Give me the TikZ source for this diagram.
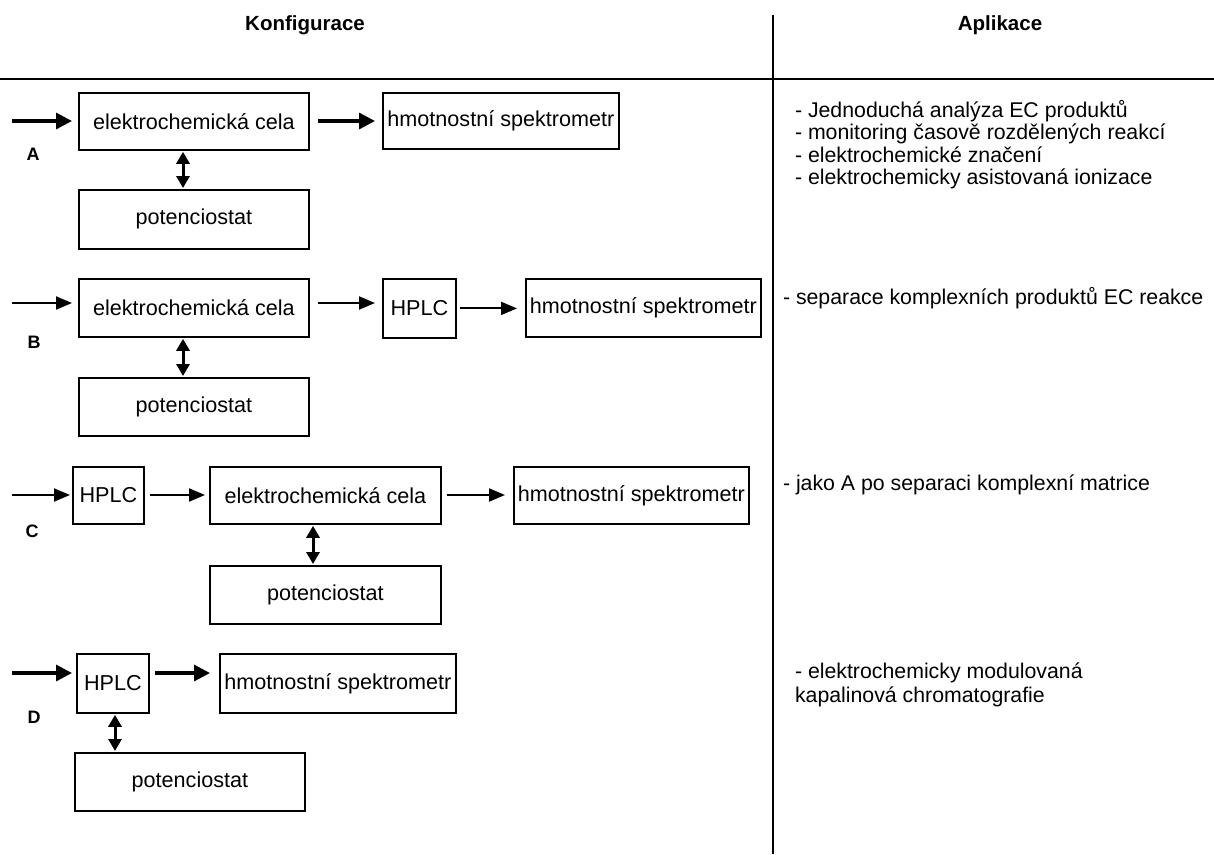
\documentclass[tikz,border=0pt]{standalone}
\usepackage{fontspec}
\setmainfont{Liberation Sans}
\usetikzlibrary{arrows.meta}
\begin{document}
\begin{tikzpicture}[x=1pt,y=-1pt,
  box/.style 2 args={draw, line width=1.8pt, inner sep=0pt, anchor=north west,
    minimum width=#1pt, minimum height=#2pt, font=\fontsize{21.6}{26}\selectfont},
  arr/.style={-{Triangle[length=16pt,width=16pt]}, line width=3.2pt},
  arrthin/.style={-{Triangle[length=16pt,width=13pt]}, line width=2pt},
  darr/.style={{Triangle[length=12pt,width=13pt]}-{Triangle[length=12pt,width=13pt]}, line width=3pt, shorten <=1pt, shorten >=1pt},
  lbl/.style={font=\bfseries\fontsize{18}{22}\selectfont},
  app/.style={anchor=base west, inner sep=0pt, outer sep=0pt, font=\fontsize{21.3}{26}\selectfont},
  head/.style={font=\bfseries\fontsize{20.5}{24}\selectfont},
  sep/.style={line width=1.8pt}
]
\useasboundingbox (0,0) rectangle (1214,854);

% headers and separators
\node[head] (h1) at (305,25) {Konfigurace};
\node[head] (h2) at (1000,25) {Aplikace};
\coordinate (hl) at (0,79);
\coordinate (hr) at (1214,79);
\coordinate (vt) at (773,15);
\coordinate (vb) at (773,854);
\draw[sep] (hl) -- (hr);
\draw[sep] (vt) -- (vb);

% ---------- A ----------
\node[box={230}{57}] (cellA) at (78,92) {elektrochemická cela};
\node[box={236}{56}] (specA) at (382,92) {hmotnostní spektrometr};
\node[box={230}{59}] (potA) at (78,189) {potenciostat};
\node[lbl] (lA) at (33,154) {A};
\coordinate (inA) at (12,121);
\coordinate (dA) at (183,0);
\draw[arr, shorten >=6pt] (inA) -- (inA -| cellA.west);
\draw[arr, shorten <=8pt, shorten >=7pt] (inA -| cellA.east) -- (inA -| specA.west);
\draw[darr] (dA |- cellA.south) -- (dA |- potA.north);

% ---------- B ----------
\node[box={230}{58}] (cellB) at (78,278) {elektrochemická cela};
\node[box={73}{59}] (hplcB) at (382,278) {HPLC};
\node[box={235}{58}] (specB) at (525,278) {hmotnostní spektrometr};
\node[box={230}{58}] (potB) at (78,377) {potenciostat};
\node[lbl] (lB) at (34,342) {B};
\coordinate (inB) at (12,303);
\coordinate (dB) at (183,0);
\draw[arrthin, shorten >=6pt] (inB) -- (inB -| cellB.west);
\draw[arrthin, shorten <=8pt, shorten >=7pt] (inB -| cellB.east) -- (inB -| hplcB.west);
\draw[arrthin, shorten <=3pt, shorten >=8pt] (hplcB.east) -- (hplcB.east -| specB.west);
\draw[darr] (dB |- cellB.south) -- (dB |- potB.north);

% ---------- C ----------
\node[box={71}{57}] (hplcC) at (72,466) {HPLC};
\node[box={231}{57}] (cellC) at (209,466) {elektrochemická cela};
\node[box={235}{57}] (specC) at (513,466) {hmotnostní spektrometr};
\node[box={231}{58}] (potC) at (209,565) {potenciostat};
\node[lbl] (lC) at (32,531) {C};
\coordinate (inC) at (12,495);
\coordinate (dC) at (313,0);
\draw[arrthin, shorten >=2pt] (inC) -- (inC -| hplcC.west);
\draw[arrthin, shorten <=5pt, shorten >=4pt] (inC -| hplcC.east) -- (inC -| cellC.west);
\draw[arrthin, shorten <=5pt, shorten >=8pt] (inC -| cellC.east) -- (inC -| specC.west);
\draw[darr] (dC |- cellC.south) -- (dC |- potC.north);

% ---------- D ----------
\node[box={72}{59}] (hplcD) at (76,653) {HPLC};
\node[box={236}{59}] (specD) at (219,653) {hmotnostní spektrometr};
\node[box={230}{58}] (potD) at (74,752) {potenciostat};
\node[lbl] (lD) at (34,717) {D};
\coordinate (inD) at (12,673);
\coordinate (dD) at (115,0);
\draw[arr, shorten >=4pt] (inD) -- (inD -| hplcD.west);
\draw[arr, shorten <=5pt, shorten >=9pt] (inD -| hplcD.east) -- (inD -| specD.west);
\draw[darr] (dD |- hplcD.south) -- (dD |- potD.north);

% ---------- applications ----------
\node[app] (a1) at (795,117) {- Jednoduchá analýza EC produktů};
\node[app] (a2) at (795,139.5) {- monitoring časově rozdělených reakcí};
\node[app] (a3) at (795,162) {- elektrochemické značení};
\node[app] (a4) at (795,184.5) {- elektrochemicky asistovaná ionizace};
\node[app] (b1) at (783,304) {- separace komplexních produktů EC reakce};
\node[app] (c1) at (783,490) {- jako A po separaci komplexní matrice};
\node[app] (d1) at (795,678) {- elektrochemicky modulovaná};
\node[app] (d2) at (795,702) {kapalinová chromatografie};
\end{tikzpicture}
\end{document}
